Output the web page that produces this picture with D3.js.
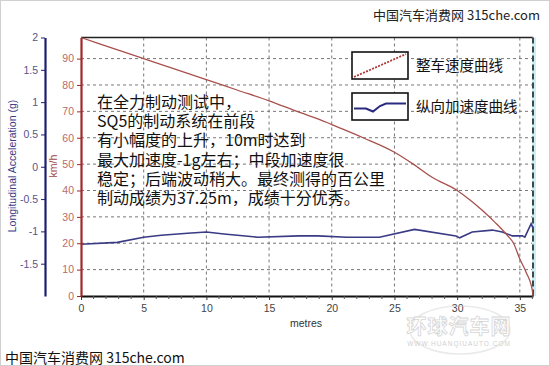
<!DOCTYPE html>
<html>
<head>
<meta charset="utf-8">
<script src="https://cdn.jsdelivr.net/npm/d3@7"></script>
<style>
  body { margin: 0; background: #fff; }
  svg { display: block; }
</style>
</head>
<body>
<div id="chart"></div>
<script>
// speed curve (km/h vs metres)
var speedMetres = [0, 2.5, 5, 7.5, 10, 12.5, 15, 17.5, 19, 20, 22.5, 25, 26.5, 28, 30, 31, 32, 33, 34, 34.5, 35, 35.5, 36, 36.05];
var speedKmh    = [98, 94, 90, 86, 82, 78, 74, 69.5, 67, 65, 60, 54.5, 50, 45, 40, 36.5, 32.5, 28, 23, 20, 14, 9, 2, 0];

// longitudinal acceleration (g vs metres)
var accMetres = [0, 2.9, 5, 6.4, 8.5, 10, 11.4, 14.1, 17.4, 18.9, 21.2, 23.8, 26.6, 29.9, 30.2, 31.2, 32.8, 33.6, 34.4, 35.2, 35.4, 35.9, 36.05];
var accG      = [-1.2, -1.17, -1.09, -1.06, -1.03, -1.01, -1.04, -1.09, -1.07, -1.07, -1.09, -1.09, -0.97, -1.07, -1.1, -1.01, -0.98, -1.01, -1.07, -1.07, -1.09, -0.88, -0.95];

var xTicks     = [0, 5, 10, 15, 20, 25, 30, 35];
var speedTicks = [0, 10, 20, 30, 40, 50, 60, 70, 80, 90];
var accTicks   = [-1.5, -1, -0.5, 0, 0.5, 1, 1.5, 2];

var legendLabels = ["整车速度曲线", "纵向加速度曲线"];
var noteLines = [
  "在全力制动测试中，",
  "SQ5的制动系统在前段",
  "有小幅度的上升，10m时达到",
  "最大加速度-1g左右；中段加速度很",
  "稳定；后端波动稍大。最终测得的百公里",
  "制动成绩为37.25m，成绩十分优秀。"
];

drawChart();

function drawChart() {
  var W = 550, H = 366;
  var pLeft = 81, pRight = 533, pTop = 37.5, pBottom = 296;
  var cjk = "'Noto Sans CJK SC', 'Noto Sans', sans-serif";
  var latin = "'Liberation Sans', Arial, sans-serif";

  var svg = d3.select("#chart").append("svg")
    .attr("width", W).attr("height", H);

  svg.append("rect").attr("x", 0.5).attr("y", 0.5).attr("width", W - 1).attr("height", H - 1)
    .attr("fill", "#fff").attr("stroke", "#d0d0d0");

  var x      = d3.scaleLinear().domain([0, 36.05]).range([pLeft, pRight]);
  var ySpeed = d3.scaleLinear().domain([0, 98]).range([pBottom, pTop]);
  var yAcc   = d3.scaleLinear().domain([-2, 2]).range([pBottom, pTop]);

  // grid
  svg.append("g").selectAll("line")
    .data(speedTicks.filter(function (d) { return d > 0; }))
    .enter().append("line")
    .attr("x1", pLeft).attr("x2", pRight)
    .attr("y1", function (d) { return ySpeed(d); })
    .attr("y2", function (d) { return ySpeed(d); })
    .attr("stroke", "#777").attr("stroke-dasharray", "3,3").attr("stroke-width", 1);

  svg.append("g").selectAll("line")
    .data(xTicks.filter(function (d) { return d > 0; }))
    .enter().append("line")
    .attr("y1", pTop).attr("y2", pBottom)
    .attr("x1", function (d) { return x(d); })
    .attr("x2", function (d) { return x(d); })
    .attr("stroke", "#777").attr("stroke-dasharray", "3,3").attr("stroke-width", 1);

  // top border and dashed right border
  svg.append("line").attr("x1", pLeft).attr("x2", pRight).attr("y1", pTop).attr("y2", pTop)
    .attr("stroke", "#222").attr("stroke-width", 1.5);
  svg.append("line").attr("x1", pRight + 1).attr("x2", pRight + 1).attr("y1", pTop).attr("y2", pBottom)
    .attr("stroke", "#cdeef5").attr("stroke-width", 4);
  svg.append("line").attr("x1", pRight).attr("x2", pRight).attr("y1", pTop).attr("y2", pBottom)
    .attr("stroke", "#111").attr("stroke-width", 1.5).attr("stroke-dasharray", "6,3");

  // annotation text
  svg.append("g").selectAll("text")
    .data(noteLines).enter().append("text")
    .attr("x", 97)
    .attr("y", function (d, i) { return 102 + i * 19.3; })
    .attr("dy", "0.36em")
    .attr("font-family", cjk).attr("font-size", 16)
    .attr("fill", "#111")
    .text(function (d) { return d; });

  // curves
  var speedData = speedMetres.map(function (m, i) { return [m, speedKmh[i]]; });
  var accData   = accMetres.map(function (m, i) { return [m, accG[i]]; });

  svg.append("path").datum(accData)
    .attr("fill", "none").attr("stroke", "#3a3a85").attr("stroke-width", 1.6)
    .attr("d", d3.line().x(function (d) { return x(d[0]); }).y(function (d) { return yAcc(d[1]); }));

  svg.append("path").datum(speedData)
    .attr("fill", "none").attr("stroke", "#a8504c").attr("stroke-width", 1.3)
    .attr("d", d3.line().curve(d3.curveMonotoneX)
      .x(function (d) { return x(d[0]); }).y(function (d) { return ySpeed(d[1]); }));

  // x axis
  var xAxis = svg.append("g").attr("transform", "translate(0," + pBottom + ")")
    .call(d3.axisBottom(x).tickValues(xTicks).tickSize(4).tickSizeOuter(0).tickFormat(d3.format("d")));
  xAxis.select(".domain").attr("stroke", "#111").attr("stroke-width", 2);
  xAxis.selectAll(".tick line").attr("stroke", "#333");
  xAxis.selectAll("text").attr("font-family", latin).attr("font-size", 10.5).attr("fill", "#444").attr("dy", "0.9em");
  svg.append("g").selectAll("line")
    .data(d3.range(1, 37).filter(function (d) { return d % 5 !== 0; }))
    .enter().append("line")
    .attr("x1", function (d) { return x(d); }).attr("x2", function (d) { return x(d); })
    .attr("y1", pBottom).attr("y2", pBottom + 3).attr("stroke", "#555");
  svg.append("text").attr("x", 306).attr("y", 323).attr("dy", "0.35em")
    .attr("text-anchor", "middle").attr("font-family", latin).attr("font-size", 10.5)
    .attr("fill", "#333").text("metres");

  // speed axis (km/h)
  var sAxis = svg.append("g").attr("transform", "translate(" + pLeft + ",0)")
    .call(d3.axisLeft(ySpeed).tickValues(speedTicks).tickSize(4).tickSizeOuter(0));
  sAxis.select(".domain").attr("stroke", "#a02828").attr("stroke-width", 2.2);
  sAxis.selectAll(".tick line").attr("stroke", "#a02828");
  sAxis.selectAll("text").attr("font-family", latin).attr("font-size", 10.5).attr("fill", "#b86a6a");
  svg.append("text")
    .attr("transform", "translate(57,166) rotate(-90)")
    .attr("text-anchor", "middle").attr("font-family", latin).attr("font-size", 10.5)
    .attr("fill", "#a04848").text("km/h");

  // acceleration axis (g)
  var aAxis = svg.append("g").attr("transform", "translate(45,0)")
    .call(d3.axisLeft(yAcc).tickValues(accTicks).tickSize(4).tickSizeOuter(0)
      .tickFormat(function (d) { return String(d); }));
  aAxis.select(".domain").attr("stroke", "#1e1e6e").attr("stroke-width", 2.2);
  aAxis.selectAll(".tick line").attr("stroke", "#1e1e6e");
  aAxis.selectAll("text").attr("font-family", latin).attr("font-size", 10.5).attr("fill", "#55558a");
  svg.append("text")
    .attr("transform", "translate(12,166) rotate(-90)")
    .attr("text-anchor", "middle").attr("dy", "0.35em").attr("font-family", latin).attr("font-size", 10.5)
    .attr("fill", "#3a3a85").text("Longitudinal Acceleration (g)");

  // legend
  var legend = svg.append("g");
  legendLabels.forEach(function (label, i) {
    var by = 52 + i * 41;
    legend.append("rect").attr("x", 352).attr("y", by).attr("width", 56).attr("height", 27)
      .attr("fill", "#fff").attr("stroke", "#111").attr("stroke-width", 1.6);
    legend.append("text").attr("x", 416).attr("y", by + 14).attr("dy", "0.36em")
      .attr("font-family", cjk).attr("font-size", 14.5).attr("fill", "#111").text(label);
  });
  legend.append("line").attr("x1", 354).attr("y1", 77).attr("x2", 406).attr("y2", 54)
    .attr("stroke", "#b03838").attr("stroke-width", 1.8).attr("stroke-dasharray", "2,1.3");
  legend.append("polyline")
    .attr("points", "354,108.5 366,108.5 373,111.5 380,106 386,103.5 395,103.5 406,103.5")
    .attr("fill", "none").attr("stroke", "#2a2a80").attr("stroke-width", 2);

  // watermarks
  svg.append("text").attr("x", 373).attr("y", 15).attr("dy", "0.36em")
    .attr("font-family", cjk).attr("font-size", 13).attr("fill", "#222")
    .text("中国汽车消费网 315che.com");
  svg.append("text").attr("x", 5).attr("y", 358).attr("dy", "0.36em")
    .attr("font-family", cjk).attr("font-size", 14).attr("fill", "#111")
    .text("中国汽车消费网 315che.com");

  var wm = svg.append("g").attr("opacity", 0.4);
  wm.append("ellipse").attr("cx", 460).attr("cy", 330).attr("rx", 50).attr("ry", 24)
    .attr("fill", "none").attr("stroke", "#ccc").attr("stroke-width", 1.5);
  wm.append("text").attr("x", 459).attr("y", 327).attr("text-anchor", "middle")
    .attr("dy", "0.36em").attr("font-family", cjk).attr("font-size", 20).attr("font-weight", "bold")
    .attr("fill", "#fff").attr("stroke", "#999").attr("stroke-width", 0.8)
    .attr("letter-spacing", 1).text("环球汽车网");
  wm.append("text").attr("x", 459).attr("y", 344).attr("text-anchor", "middle")
    .attr("dy", "0.36em").attr("font-family", latin).attr("font-size", 6.5)
    .attr("fill", "#888").attr("letter-spacing", 1).text("WWW.HUANQIUAUTO.COM");
}
</script>
</body>
</html>
